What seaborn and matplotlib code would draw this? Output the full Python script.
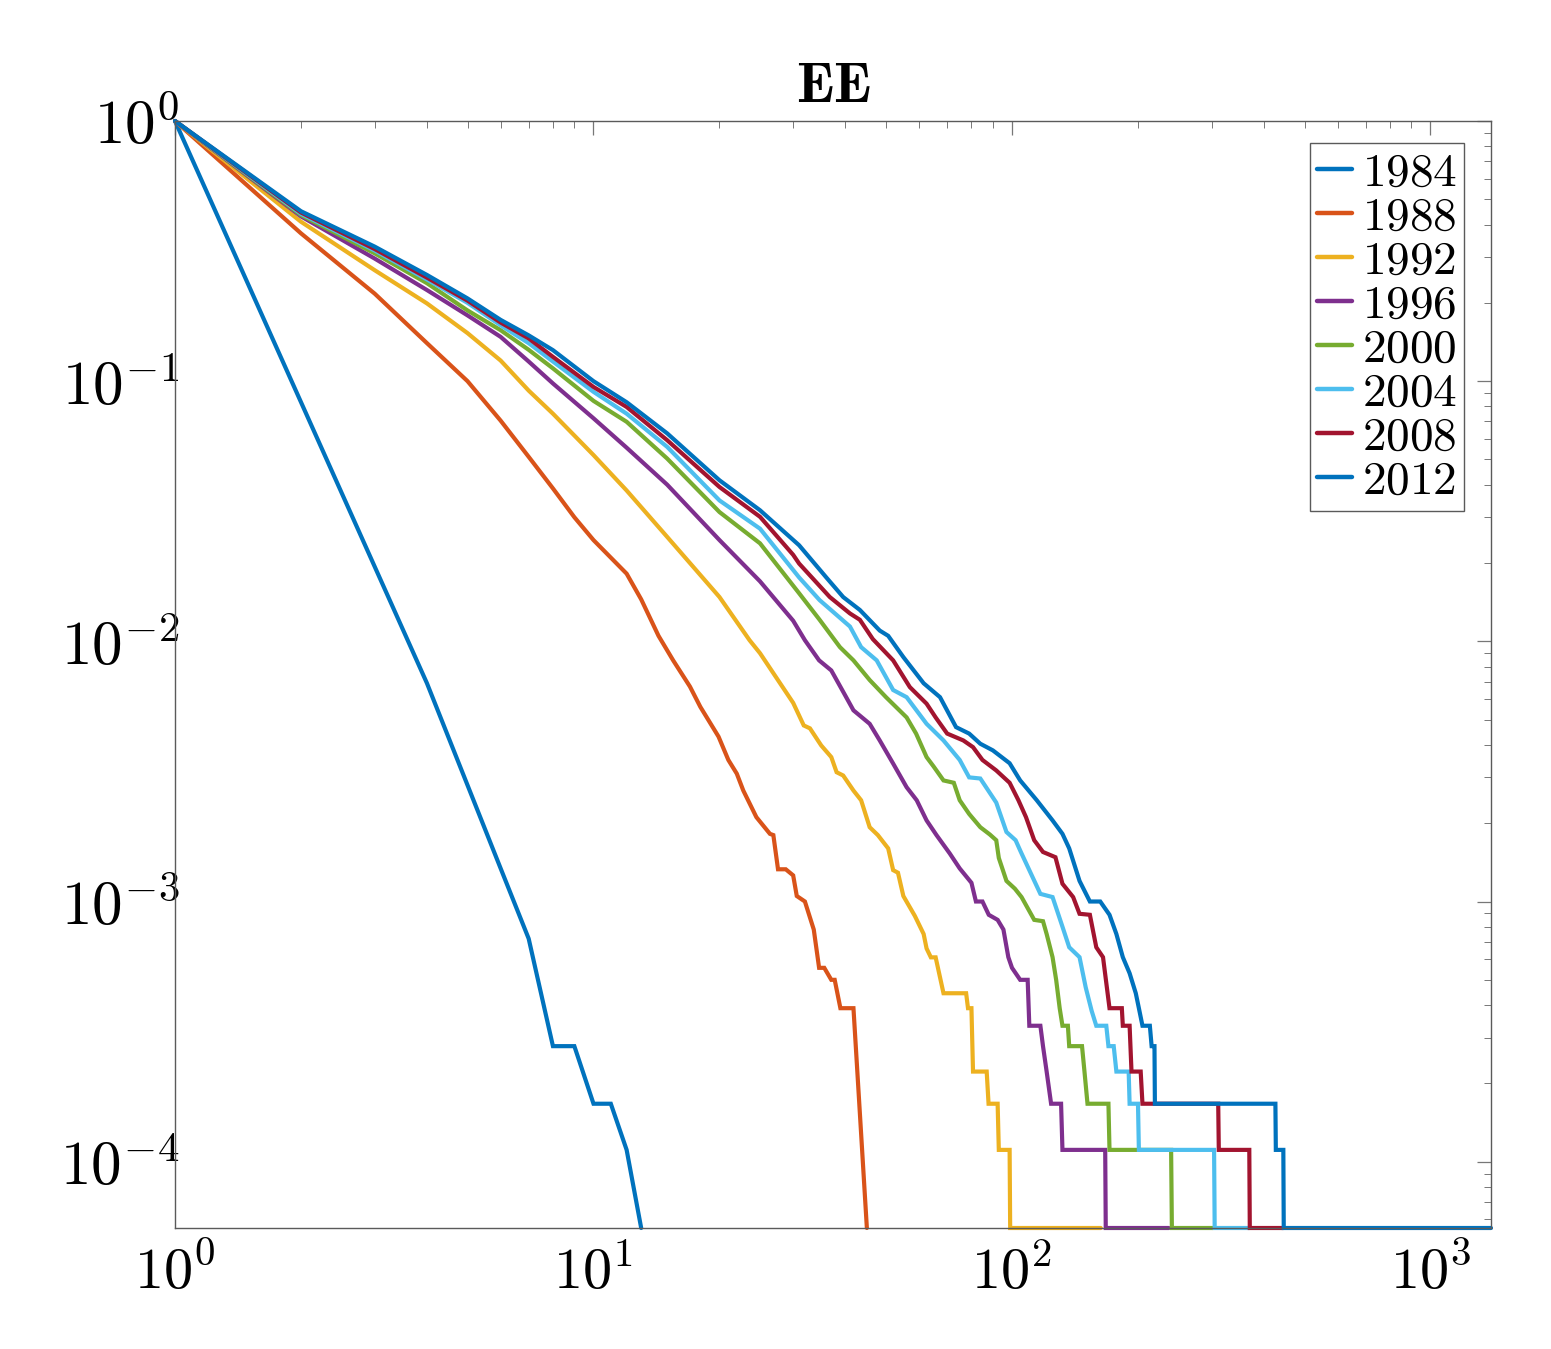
import numpy as np
import pandas as pd
import matplotlib
matplotlib.use("Agg")
import matplotlib.pyplot as plt
import seaborn as sns
from matplotlib.ticker import LogLocator, FuncFormatter, NullFormatter

# ---------------- data ----------------
years = ["1984", "1988", "1992", "1996", "2000", "2004", "2008", "2012"]
colors = ["#0072BD", "#D95319", "#EDB120", "#7E2F8E",
          "#77AC30", "#4DBEEE", "#A2142F", "#0072BD"]

pts_1984 = [(1, 1), (4, 0.0069), (5, 0.0028), (6, 0.00134), (7, 7.2e-4),
            (8, 2.78e-4), (9, 2.78e-4), (10, 1.67e-4), (11, 1.67e-4),
            (12, 1.11e-4), (13, 5.56e-5)]

pts_1988 = [(1, 1), (2, 0.37), (3, 0.217), (4, 0.14), (5, 0.1), (6, 0.0705),
            (7, 0.0512), (8, 0.0387), (9, 0.030), (10, 0.0245), (12, 0.0182),
            (13, 0.0145), (14.3, 0.0105), (15.5, 0.00845), (17, 0.0067),
            (18, 0.0056), (19.9, 0.0043), (21, 0.0035), (22, 0.0031),
            (22.8, 0.00267), (24.5, 0.00211), (26.4, 0.00182), (26.9, 0.0018),
            (27.6, 0.00133), (28.8, 0.00133), (30, 0.00126), (30.6, 0.00105),
            (32, 0.001), (33.6, 7.8e-4), (34.6, 5.56e-4), (35.6, 5.56e-4),
            (37, 5.0e-4), (37.7, 5.0e-4), (38.9, 3.89e-4), (41.8, 3.89e-4),
            (45, 5.56e-5)]

pts_1992 = [(1, 1), (2, 0.41), (3, 0.267), (4, 0.199), (5, 0.153), (6, 0.120),
            (7, 0.092), (8, 0.075), (10, 0.052), (12, 0.038), (15, 0.0252),
            (20, 0.0148), (23.6, 0.0101), (25, 0.0090), (30, 0.0058),
            (31.8, 0.00475), (32.9, 0.00463), (35, 0.00398), (37, 0.00359),
            (38.1, 0.00314), (39.5, 0.00305), (41.8, 0.00267), (43.6, 0.00245),
            (45.7, 0.00193), (47.8, 0.0018), (50.6, 0.0016), (52, 0.00132),
            (53.4, 0.00129), (55, 0.00105), (58.6, 8.8e-4), (61.5, 7.5e-4),
            (62.5, 6.6e-4), (64, 6.1e-4), (65.7, 6.1e-4), (68.6, 4.44e-4),
            (77.7, 4.44e-4), (78.5, 3.89e-4), (80, 3.89e-4), (80.7, 2.22e-4),
            (87, 2.22e-4), (87.9, 1.67e-4), (92.4, 1.67e-4), (93, 1.11e-4),
            (98.7, 1.11e-4), (99, 5.56e-5), (163, 5.56e-5)]

pts_1996 = [(1, 1), (2, 0.43), (3, 0.296), (4, 0.224), (5, 0.179), (6, 0.148),
            (7, 0.119), (8, 0.098), (10, 0.072), (12, 0.0555), (15, 0.04),
            (20, 0.0245), (25, 0.017), (30, 0.012), (32, 0.0101),
            (34.6, 0.00845), (37, 0.00773), (39.5, 0.0064), (41.8, 0.00543),
            (45.7, 0.00482), (48.3, 0.00416), (52, 0.00339), (56, 0.00275),
            (59.2, 0.00245), (62.5, 0.00205), (66, 0.0018), (71, 0.00153),
            (75, 0.00134), (80, 0.00118), (82, 0.001), (85, 0.001),
            (88, 8.89e-4), (92.4, 8.5e-4), (95.4, 7.8e-4), (98, 6.11e-4),
            (100, 5.56e-4), (104.6, 5.0e-4), (109, 5.0e-4), (110, 3.33e-4),
            (116.9, 3.33e-4), (118.6, 2.78e-4), (121, 2.22e-4), (124, 1.67e-4),
            (131, 1.67e-4), (132, 1.11e-4), (167, 1.11e-4), (167.5, 5.56e-5),
            (237, 5.56e-5)]

pts_2000 = [(1, 1), (2, 0.435), (3, 0.31), (4, 0.238), (5, 0.187), (6, 0.157),
            (7, 0.132), (8, 0.112), (10, 0.084), (12, 0.0698), (15, 0.0504),
            (20, 0.0314), (25, 0.0238), (31, 0.0153), (34.7, 0.0121),
            (38.8, 0.0095), (41.8, 0.00845), (45.7, 0.0071), (50, 0.0061),
            (56, 0.0051), (59, 0.00442), (62.5, 0.00359), (65, 0.0033),
            (68.6, 0.00292), (72.6, 0.00286), (75, 0.00245), (79, 0.00217),
            (84, 0.00193), (88.5, 0.00181), (91.7, 0.00172), (93, 0.00147),
            (97, 0.0012), (101.6, 0.00112), (105.4, 0.00104), (113, 8.5e-4),
            (118.6, 8.4e-4), (121, 7.5e-4), (125, 6.11e-4), (127.5, 5.0e-4),
            (130, 3.89e-4), (132, 3.33e-4), (136, 3.33e-4), (137, 2.78e-4),
            (147, 2.78e-4), (149, 2.22e-4), (151.5, 1.67e-4), (170, 1.67e-4),
            (171, 1.11e-4), (240, 1.11e-4), (241, 5.56e-5), (302, 5.56e-5)]

pts_2004 = [(1, 1), (2, 0.44), (3, 0.318), (4, 0.246), (5, 0.2), (6, 0.164),
            (7, 0.14), (8, 0.119), (10, 0.091), (12, 0.075), (15, 0.0559),
            (20, 0.0348), (25, 0.0271), (31, 0.0176), (34.7, 0.0144),
            (41, 0.0114), (43.6, 0.0095), (47.5, 0.00845), (52, 0.0065),
            (56, 0.0061), (62.5, 0.00482), (68.6, 0.00416), (75, 0.0035),
            (79, 0.003), (84, 0.00297), (91.7, 0.0024), (97, 0.00185),
            (102, 0.00172), (105, 0.00155), (110, 0.00132), (116.9, 0.00107),
            (125, 0.00104), (132, 8.0e-4), (137, 6.67e-4), (145, 6.11e-4),
            (150, 4.68e-4), (155, 3.8e-4), (159, 3.33e-4), (168, 3.33e-4),
            (170, 2.78e-4), (175, 2.78e-4), (177.6, 2.22e-4), (190, 2.22e-4),
            (191, 1.67e-4), (200, 1.67e-4), (201, 1.11e-4), (304, 1.11e-4),
            (305, 5.56e-5), (369, 5.56e-5)]

pts_2008 = [(1, 1), (2, 0.445), (3, 0.322), (4, 0.25), (5, 0.204), (6, 0.168),
            (7, 0.146), (8, 0.124), (10, 0.095), (12, 0.0796), (15, 0.0593),
            (20, 0.0392), (25, 0.0301), (30, 0.0215), (31, 0.0199),
            (36.7, 0.0148), (41, 0.0128), (43.3, 0.0121), (46.5, 0.0102),
            (52, 0.00845), (57, 0.00667), (62.5, 0.00576), (65.7, 0.0051),
            (70, 0.00442), (76.5, 0.00416), (80.7, 0.00392), (85, 0.0035),
            (91.7, 0.00319), (98.7, 0.00286), (103.6, 0.00245), (108, 0.00211),
            (113, 0.00172), (118.6, 0.00155), (127, 0.00148), (132, 0.00117),
            (140, 0.00104), (145, 8.97e-4), (153.5, 8.89e-4), (159, 6.67e-4),
            (165, 6.11e-4), (171, 3.89e-4), (183, 3.89e-4), (184, 3.33e-4),
            (191, 3.33e-4), (193, 2.22e-4), (203, 2.22e-4), (205, 1.67e-4),
            (311, 1.67e-4), (312, 1.11e-4), (369, 1.11e-4), (370, 5.56e-5),
            (445, 5.56e-5)]

pts_2012 = [(1, 1), (2, 0.45), (3, 0.329), (4, 0.256), (5, 0.208), (6, 0.172),
            (7, 0.15), (8, 0.1316), (10, 0.1), (12, 0.083), (15, 0.063),
            (20, 0.0416), (25, 0.0319), (31, 0.0234), (36, 0.0176),
            (39.5, 0.0148), (43.3, 0.0132), (48.3, 0.011), (50.6, 0.0105),
            (55, 0.0087), (61.5, 0.0069), (67.3, 0.0061), (73.5, 0.00468),
            (79, 0.00442), (84, 0.00404), (90, 0.00381), (98.7, 0.0034),
            (104.6, 0.00292), (114.6, 0.00245), (125, 0.00205), (132, 0.00182),
            (137, 0.0016), (145, 0.0012), (153.5, 1.0e-3), (162.5, 1.0e-3),
            (171, 8.89e-4), (177.6, 7.5e-4), (184, 6.11e-4), (191, 5.3e-4),
            (197.6, 4.44e-4), (201, 3.89e-4), (205, 3.33e-4), (213.5, 3.33e-4),
            (215.6, 2.78e-4), (219, 2.78e-4), (219.5, 1.67e-4), (426, 1.67e-4),
            (427, 1.11e-4), (445, 1.11e-4), (446, 5.56e-5), (1395, 5.56e-5)]

series = [pts_1984, pts_1988, pts_1992, pts_1996,
          pts_2000, pts_2004, pts_2008, pts_2012]

x_limits = (1, 1395)
y_limits = (5.56e-5, 1)
title = "EE"

# ---------------- styling ----------------
sns.set_theme(style="white")
plt.rcParams["mathtext.fontset"] = "cm"
plt.rcParams["font.family"] = ["DejaVu Serif"]
plt.rcParams["text.color"] = "black"
plt.rcParams["axes.labelcolor"] = "black"

W, H = 1551, 1349
fig = plt.figure(figsize=(W / 100, H / 100), dpi=100)
fig.patch.set_facecolor("white")
L, R, T, B = 175, 1491, 121, 1228
ax = fig.add_axes([L / W, 1 - B / H, (R - L) / W, (B - T) / H])
ax.set_facecolor("white")
ax.set_xscale("log")
ax.set_yscale("log")

for yr, pts, c in zip(years, series, colors):
    df = pd.DataFrame(pts, columns=["x", "y"])
    sns.lineplot(data=df, x="x", y="y", ax=ax, color=c, linewidth=3.0,
                 label=f"${yr}$", sort=False, estimator=None,
                 clip_on=False, solid_joinstyle="miter")

ax.set_xlim(*x_limits)
ax.set_ylim(*y_limits)
ax.set_xlabel("")
ax.set_ylabel("")

spine_c = "#5a5a5a"
for s in ax.spines.values():
    s.set_color(spine_c)
    s.set_linewidth(1.0)
    s.set_visible(True)

fmt = FuncFormatter(lambda v, pos: r"$10^{%d}$" % int(round(np.log10(v))))
for axis in (ax.xaxis, ax.yaxis):
    axis.set_major_locator(LogLocator(base=10, numticks=20))
    axis.set_minor_locator(LogLocator(base=10, subs=np.arange(2, 10), numticks=100))
    axis.set_major_formatter(fmt)
    axis.set_minor_formatter(NullFormatter())

ax.tick_params(which="both", direction="in", top=True, right=True,
               color="#777777", labelcolor="black")
ax.tick_params(axis="x", labelsize=42, pad=12)
ax.tick_params(axis="y", labelsize=44, pad=-3)
ax.tick_params(which="major", length=10, width=0.9)
ax.tick_params(which="minor", length=5, width=0.7)

ax.set_title(r"$\mathbf{%s}$" % title, fontsize=41, pad=14, color="black")

leg = ax.legend(loc="upper right", bbox_to_anchor=(0.9795, 0.9801),
                borderaxespad=0, fontsize=34, frameon=True, fancybox=False,
                framealpha=1, edgecolor=spine_c, handlelength=0.75,
                handletextpad=0.2, labelspacing=-0.025, borderpad=0.15)
leg.get_frame().set_linewidth(1.0)
for t in leg.get_texts():
    t.set_color("black")
for h in leg.get_lines():
    h.set_linewidth(3.2)

fig.savefig("out.png", dpi=100, facecolor="white")
